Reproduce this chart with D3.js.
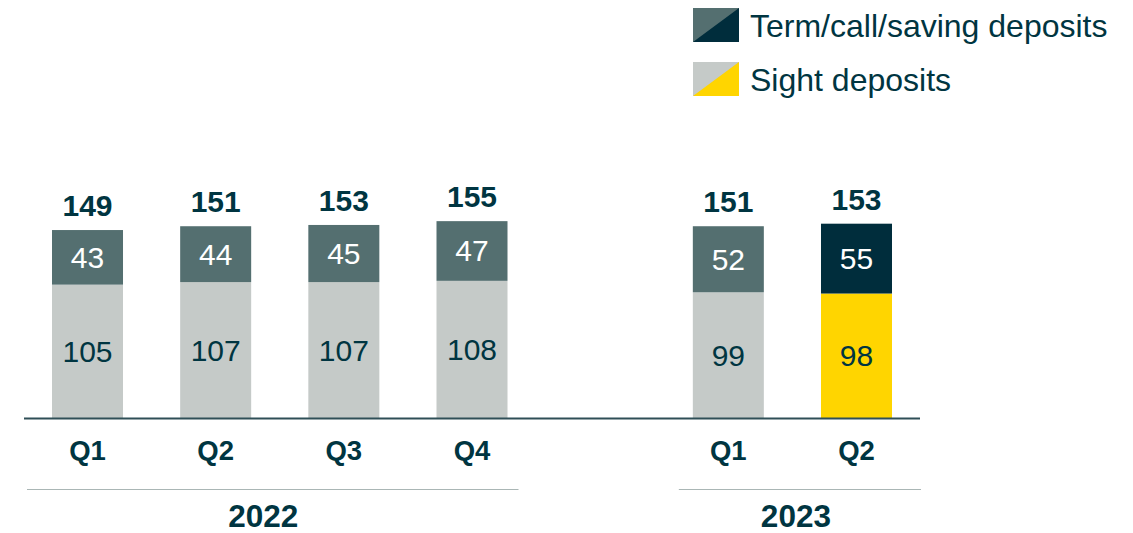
<!DOCTYPE html>
<html>
<head>
<meta charset="utf-8">
<script src="https://cdn.jsdelivr.net/npm/d3@7"></script>
<style>
  body { margin: 0; background: #fff; }
  svg { display: block; font-family: "Liberation Sans", Arial, sans-serif; }
</style>
</head>
<body>
<svg id="chart" width="1133" height="533"></svg>
<script>
// data
var quarters = ["2022 Q1", "2022 Q2", "2022 Q3", "2022 Q4", "gap", "2023 Q1", "2023 Q2"];
var quarterLabels = ["Q1", "Q2", "Q3", "Q4", "", "Q1", "Q2"];
var sight = [105, 107, 107, 108, null, 99, 98];
var term = [43, 44, 45, 47, null, 52, 55];
var totals = [149, 151, 153, 155, null, 151, 153];
var years = ["2022", "2023"];
var yearFirst = ["2022 Q1", "2023 Q1"];
var yearLast = ["2022 Q4", "2023 Q2"];
var legendLabels = ["Term/call/saving deposits", "Sight deposits"];

var textCol = "#003541";
var termCol = "#546f70", sightCol = "#c5cac8";
var termHi = "#002d3c", sightHi = "#ffd500";

var svg = d3.select("#chart");
var baseY = 418;

var x = d3.scaleBand()
    .domain(quarters)
    .range([24, 920])
    .paddingInner(0.446)
    .paddingOuter(0.2185);

var y = d3.scaleLinear()
    .domain([0, 100])
    .range([baseY, baseY - 127]);

var rows = quarters.map(function (q, i) {
  return { q: q, i: i, sight: sight[i], term: term[i], total: totals[i], hi: i === quarters.length - 1 };
}).filter(function (d) { return d.sight !== null; });

var g = svg.append("g");

// sight deposits segment
g.selectAll(".sight").data(rows).enter().append("rect")
  .attr("x", function (d) { return x(d.q); })
  .attr("width", x.bandwidth())
  .attr("y", function (d) { return y(d.sight); })
  .attr("height", function (d) { return y(0) - y(d.sight); })
  .attr("fill", function (d) { return d.hi ? sightHi : sightCol; });

// term deposits segment
g.selectAll(".term").data(rows).enter().append("rect")
  .attr("x", function (d) { return x(d.q); })
  .attr("width", x.bandwidth())
  .attr("y", function (d) { return y(d.sight + d.term); })
  .attr("height", function (d) { return y(d.sight) - y(d.sight + d.term); })
  .attr("fill", function (d) { return d.hi ? termHi : termCol; });

g.selectAll(".sightLbl").data(rows).enter().append("text")
  .attr("x", function (d) { return x(d.q) + x.bandwidth() / 2; })
  .attr("y", function (d) { return (y(0) + y(d.sight)) / 2; })
  .attr("dy", "0.35em")
  .attr("text-anchor", "middle")
  .attr("font-size", 30)
  .attr("fill", textCol)
  .text(function (d) { return d.sight; });

g.selectAll(".termLbl").data(rows).enter().append("text")
  .attr("x", function (d) { return x(d.q) + x.bandwidth() / 2; })
  .attr("y", function (d) { return (y(d.sight) + y(d.sight + d.term)) / 2; })
  .attr("dy", "0.35em")
  .attr("text-anchor", "middle")
  .attr("font-size", 30)
  .attr("fill", "#fff")
  .text(function (d) { return d.term; });

g.selectAll(".totLbl").data(rows).enter().append("text")
  .attr("x", function (d) { return x(d.q) + x.bandwidth() / 2; })
  .attr("y", function (d) { return y(d.sight + d.term) - 14; })
  .attr("text-anchor", "middle")
  .attr("font-size", 30)
  .attr("font-weight", "bold")
  .attr("fill", textCol)
  .text(function (d) { return d.total; });

// baseline
svg.append("line")
  .attr("x1", 24).attr("x2", 920)
  .attr("y1", baseY + 0.5).attr("y2", baseY + 0.5)
  .attr("stroke", "#2f4f57").attr("stroke-width", 2);

// quarter labels
svg.selectAll(".qLbl").data(quarters).enter().append("text")
  .attr("x", function (d) { return x(d) + x.bandwidth() / 2; })
  .attr("y", 460)
  .attr("text-anchor", "middle")
  .attr("font-size", 27.5)
  .attr("font-weight", "bold")
  .attr("fill", textCol)
  .text(function (d, i) { return quarterLabels[i]; });

// year groups (line overhang and label offset tuned to the picture)
var yearPadL = [25, 14], yearPadR = [11, 29], yearShift = [-16.5, 3.5];
var yearG = svg.selectAll(".year").data(years).enter().append("g");
yearG.append("line")
  .attr("x1", function (d, i) { return x(yearFirst[i]) - yearPadL[i]; })
  .attr("x2", function (d, i) { return x(yearLast[i]) + x.bandwidth() + yearPadR[i]; })
  .attr("y1", 489.5).attr("y2", 489.5)
  .attr("stroke", "#aab6b5").attr("stroke-width", 1.2);
yearG.append("text")
  .attr("x", function (d, i) { return (x(yearFirst[i]) + x(yearLast[i]) + x.bandwidth()) / 2 + yearShift[i]; })
  .attr("y", 527)
  .attr("text-anchor", "middle")
  .attr("font-size", 31.5)
  .attr("font-weight", "bold")
  .attr("fill", textCol)
  .text(function (d) { return d; });

// legend with split swatches
var legendCols = [[termCol, termHi], [sightCol, sightHi]];
var lg = svg.selectAll(".lg").data(legendLabels).enter().append("g")
  .attr("transform", function (d, i) { return "translate(693," + (8 + i * 54) + ")"; });
lg.append("rect").attr("width", 46).attr("height", 34)
  .attr("fill", function (d, i) { return legendCols[i][0]; });
lg.append("path").attr("d", "M0,34L46,0L46,34Z")
  .attr("fill", function (d, i) { return legendCols[i][1]; });
lg.append("text")
  .attr("x", 57).attr("y", 17).attr("dy", "0.36em")
  .attr("font-size", 32)
  .attr("fill", textCol)
  .text(function (d) { return d; });
</script>
</body>
</html>
